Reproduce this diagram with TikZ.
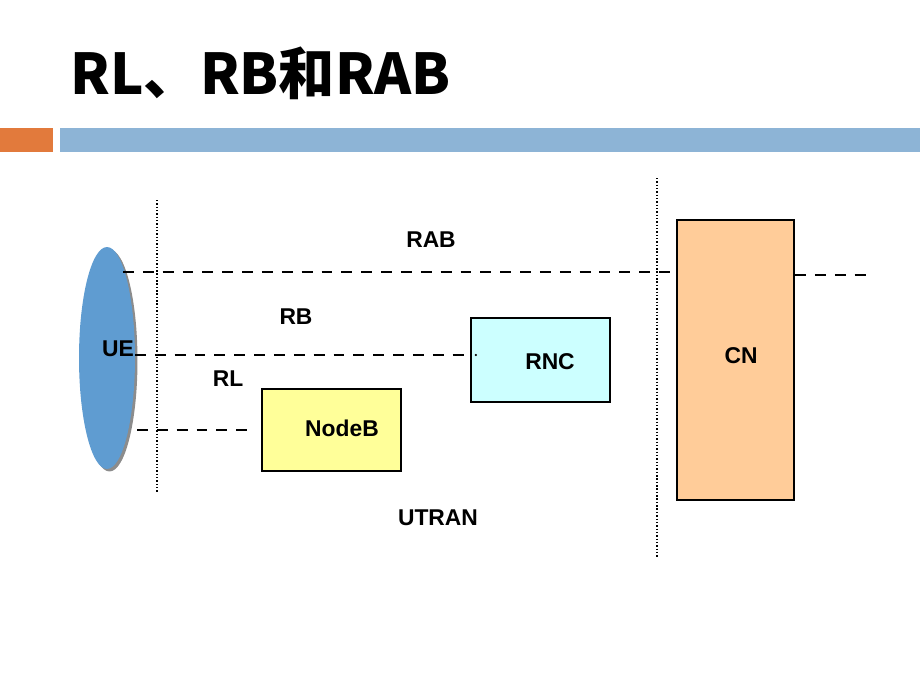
\documentclass[tikz,border=0pt]{standalone}
\usepackage{fontspec}
\setmainfont{Liberation Sans}
\newfontfamily\cjk{Noto Sans CJK SC}
\usetikzlibrary{shapes.geometric,shadows}
\definecolor{barorange}{RGB}{226,122,60}
\definecolor{barblue}{RGB}{141,180,214}
\definecolor{uefill}{RGB}{95,156,209}
\definecolor{nodebfill}{RGB}{255,255,153}
\definecolor{rncfill}{RGB}{204,255,255}
\definecolor{cnfill}{RGB}{255,204,153}

\begin{document}
\begin{tikzpicture}[x=0.02cm,y=-0.02cm]
    \tikzstyle{box}=[draw=black,line width=1.3pt,inner sep=0pt]
    \tikzstyle{lbl}=[font=\bfseries\fontsize{13}{15}\selectfont,inner sep=0pt]
    \tikzstyle{link}=[line width=1.5pt,dash pattern=on 6.2pt off 5.1pt]
    \tikzstyle{domain line}=[line width=1.4pt,dash pattern=on 0.8pt off 1.1pt]

    \useasboundingbox (0,0) rectangle (920,690);

    % Title and header bars
    \node[font=\cjk\bfseries\fontsize{32}{36}\selectfont,anchor=west,inner sep=0pt] (title) at (70,73) {RL、RB和RAB};
    \fill[barorange] (0,128) rectangle (53,152);
    \fill[barblue] (60,128) rectangle (920,152);

    % Domain borders
    \foreach \x/\top/\bot in {157/200/493, 657/178/557}
        \draw[domain line] (\x,\top) -- (\x,\bot);

    % Network elements
    \node[ellipse,fill=uefill,minimum width=1.12cm,minimum height=4.44cm,inner sep=0pt,
          drop shadow={shadow xshift=0.05cm,shadow yshift=-0.05cm,fill=black!45,opacity=1}] (ue) at (107,358) {};
    \node[box,fill=nodebfill,minimum width=2.78cm,minimum height=1.64cm] (nodeb) at (331.5,430) {};
    \node[box,fill=rncfill,minimum width=2.78cm,minimum height=1.68cm] (rnc) at (540.5,360) {};
    \node[box,fill=cnfill,minimum width=2.34cm,minimum height=5.6cm] (cn) at (735.5,360) {};

    \node[lbl] (ue-text) at (118,349) {UE};
    \node[lbl] (nodeb-text) at (342,428) {NodeB};
    \node[lbl] (rnc-text) at (550,362) {RNC};
    \node[lbl] (cn-text) at (741,356) {CN};

    % Bearers
    \coordinate (rab-a) at (123,272);
    \coordinate (rab-b) at (866,275);
    \coordinate (rb-a) at (135,355);
    \coordinate (rl-a) at (137,430);
    \draw[link] (rab-a) -- (cn.west |- rab-a);
    \draw[link] (cn.east |- rab-b) -- (rab-b);
    \draw[link] (rb-a) -- (rnc.west |- rb-a);
    \fill ([xshift=0.12cm]rnc.west |- rb-a) circle (0.7pt);
    \draw[link,shorten >=0.24cm] (rl-a) -- (nodeb.west |- rl-a);

    % Annotate the bearers
    \node[lbl] (rab) at (431,240) {RAB};
    \node[lbl] (rb) at (296,317) {RB};
    \node[lbl] (rl) at (228,379) {RL};
    \node[lbl] (utran) at (438,518) {UTRAN};
\end{tikzpicture}
\end{document}
